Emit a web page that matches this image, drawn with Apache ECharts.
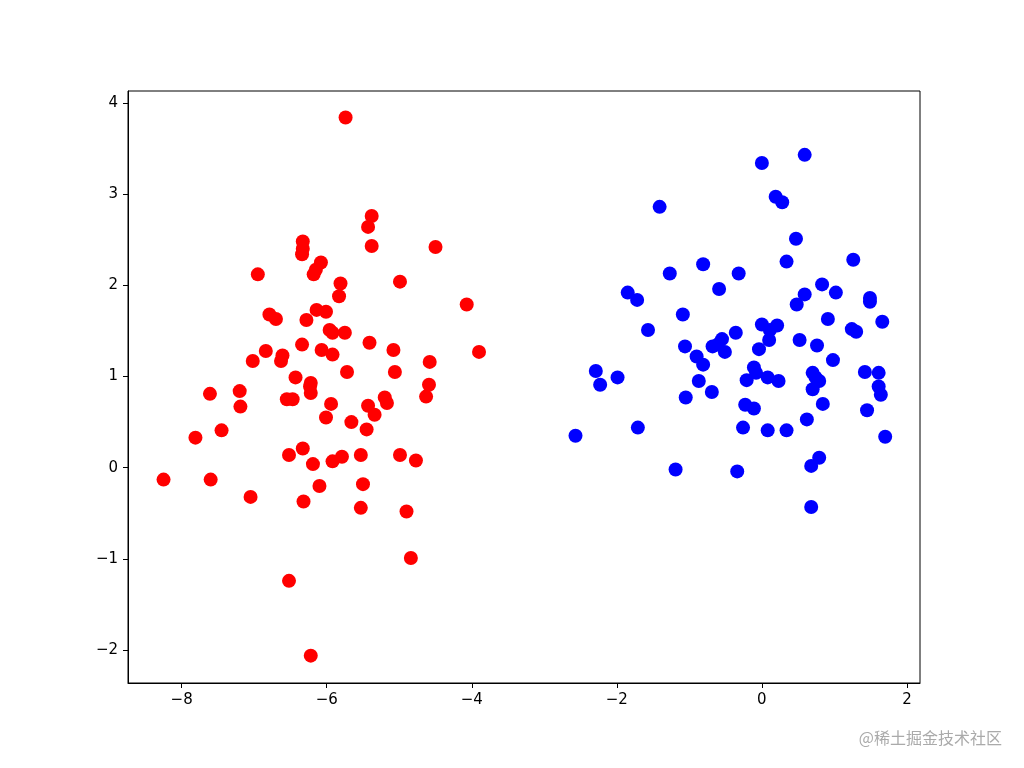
<!DOCTYPE html>
<html>
<head>
<meta charset="utf-8">
<script src="https://cdn.jsdelivr.net/npm/echarts@6/dist/echarts.min.js"></script>
<style>html,body{margin:0;padding:0;background:#fff}#main{width:1024px;height:768px}</style>
</head>
<body>
<div id="main"></div>
<script>
// cluster A (red)
const redPoints = [
  [-5.74,3.84],[-5.38,2.76],[-5.43,2.64],[-5.38,2.43],[-6.33,2.48],[-6.33,2.40],[-6.34,2.34],[-6.08,2.25],
  [-6.15,2.17],[-6.18,2.12],[-6.95,2.12],[-4.50,2.42],[-4.99,2.04],[-5.81,2.02],[-4.07,1.79],[-5.83,1.88],
  [-6.14,1.73],[-6.01,1.71],[-6.28,1.62],[-6.79,1.68],[-6.70,1.63],[-5.96,1.51],[-5.75,1.48],[-5.92,1.48],
  [-6.34,1.35],[-5.41,1.37],[-6.07,1.29],[-5.92,1.24],[-5.08,1.29],[-3.90,1.27],[-6.84,1.28],[-5.06,1.05],
  [-7.02,1.17],[-6.61,1.23],[-6.63,1.17],[-4.58,1.16],[-5.72,1.05],[-6.43,0.99],[-6.22,0.93],[-4.59,0.91],
  [-6.23,0.89],[-7.20,0.84],[-7.61,0.81],[-4.63,0.78],[-6.55,0.75],[-6.47,0.75],[-6.22,0.82],[-5.20,0.77],
  [-5.17,0.71],[-5.43,0.68],[-5.34,0.58],[-5.94,0.70],[-7.19,0.67],[-7.45,0.41],[-7.81,0.33],[-5.66,0.50],
  [-5.45,0.42],[-6.01,0.55],[-6.33,0.21],[-6.52,0.14],[-6.19,0.04],[-5.79,0.12],[-5.53,0.14],[-4.99,0.14],
  [-4.77,0.08],[-5.92,0.07],[-8.25,-0.13],[-7.60,-0.13],[-6.10,-0.20],[-7.05,-0.32],[-5.50,-0.18],[-6.32,-0.37],
  [-5.53,-0.44],[-4.90,-0.48],[-4.84,-0.99],[-6.52,-1.24],[-6.22,-2.06]
];
// cluster B (blue)
const bluePoints = [
  [0.59,3.43],[0.00,3.34],[0.19,2.97],[0.28,2.91],[-1.41,2.86],[0.47,2.51],[-1.27,2.13],[-0.81,2.23],
  [-0.32,2.13],[1.26,2.28],[0.34,2.26],[-1.85,1.92],[-1.72,1.84],[0.83,2.01],[1.02,1.92],[0.59,1.90],
  [0.48,1.79],[1.49,1.86],[1.49,1.82],[-1.57,1.51],[-1.09,1.68],[-0.59,1.96],[0.91,1.63],[1.66,1.60],
  [1.24,1.52],[1.30,1.49],[0.00,1.57],[0.21,1.56],[0.11,1.51],[-0.36,1.48],[-0.55,1.41],[-0.68,1.33],
  [0.10,1.40],[0.52,1.40],[0.76,1.34],[-1.06,1.33],[-0.04,1.30],[-0.90,1.22],[-0.81,1.13],[-0.51,1.27],
  [-0.61,1.35],[0.98,1.18],[0.70,1.04],[0.74,0.99],[-0.11,1.10],[-0.08,1.04],[1.42,1.05],[1.61,1.04],
  [-2.29,1.06],[-2.23,0.91],[0.08,0.99],[0.23,0.95],[-0.21,0.96],[-0.69,0.83],[-1.99,0.99],[-0.87,0.95],
  [0.79,0.95],[0.70,0.86],[1.61,0.89],[1.64,0.80],[-1.05,0.77],[-0.23,0.69],[-0.11,0.65],[0.84,0.70],
  [1.45,0.63],[0.62,0.53],[-1.71,0.44],[-0.26,0.44],[0.08,0.41],[0.34,0.41],[-2.57,0.35],[1.70,0.34],
  [-1.19,-0.02],[-0.34,-0.04],[0.79,0.11],[0.68,0.02],[0.68,-0.43]
];
const xTicks = [-8, -6, -4, -2, 0, 2];
const yTicks = [-2, -1, 0, 1, 2, 3, 4];
const fmt = v => (v < 0 ? '\u2212' + Math.abs(v) : String(v));

const chart = echarts.init(document.getElementById('main'));
const axisCommon = {
  axisLine: {onZero: false, lineStyle: {color: '#000', width: 1}},
  axisTick: {length: 5, lineStyle: {color: '#000'}},
  axisLabel: {color: '#000', fontSize: 15, fontFamily: 'DejaVu Sans', formatter: fmt},
  splitLine: {show: false}
};
chart.setOption({
  backgroundColor: '#fff',
  animation: false,
  grid: {left: 128, right: 104, top: 91, bottom: 85, show: true, borderColor: '#000', borderWidth: 1},
  xAxis: Object.assign({type: 'value', min: -8.74, max: 2.18}, axisCommon, {
    axisTick: Object.assign({}, axisCommon.axisTick, {customValues: xTicks}),
    axisLabel: Object.assign({}, axisCommon.axisLabel, {customValues: xTicks, margin: 10})
  }),
  yAxis: Object.assign({type: 'value', min: -2.36, max: 4.13}, axisCommon, {
    axisTick: Object.assign({}, axisCommon.axisTick, {customValues: yTicks}),
    axisLabel: Object.assign({}, axisCommon.axisLabel, {customValues: yTicks, margin: 10})
  }),
  series: [
    {type: 'scatter', data: redPoints, symbolSize: 14, itemStyle: {color: '#ff0000', opacity: 1}},
    {type: 'scatter', data: bluePoints, symbolSize: 14, itemStyle: {color: '#0000ff', opacity: 1}}
  ],
  graphic: [{
    type: 'text', right: 22, bottom: 22,
    style: {text: '@稀土掘金技术社区', fill: '#aaa', fontSize: 16, fontFamily: 'Noto Sans CJK SC'}
  }]
});
</script>
</body>
</html>
